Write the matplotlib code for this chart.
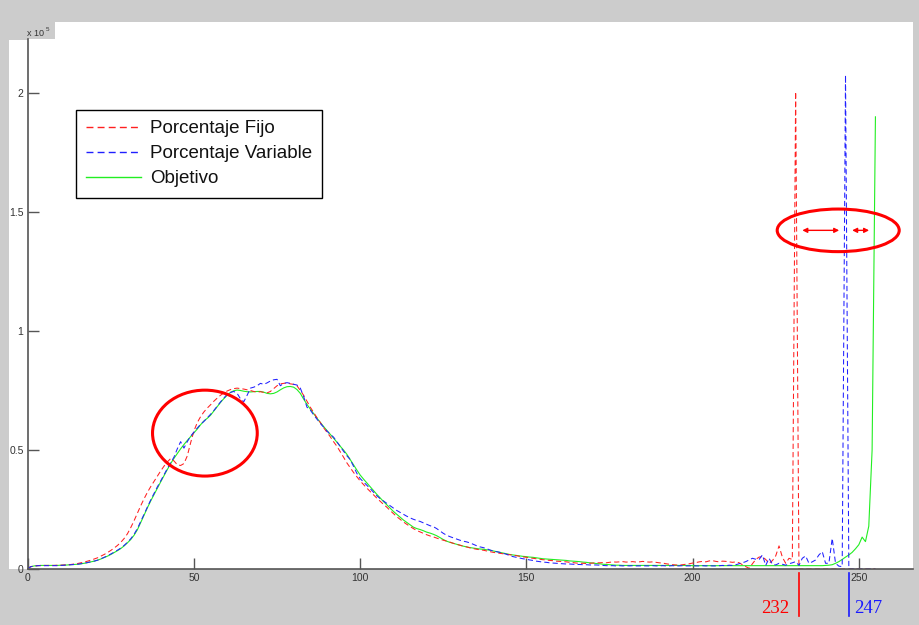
import numpy as np
import matplotlib.pyplot as plt
from matplotlib.patches import Ellipse, Rectangle
from matplotlib.transforms import blended_transform_factory

plt.rcParams['font.family'] = ['Liberation Sans', 'DejaVu Sans']

# histogram of gray levels 0..255, counts in thousands of pixels
fijo = [
    0.3, 1.0, 1.3, 1.4, 1.5, 1.5, 1.5, 1.5, 1.5, 1.6,
    1.6, 1.7, 1.8, 1.9, 2.1, 2.3, 2.6, 2.9, 3.3, 3.7,
    4.2, 4.7, 5.4, 6.1, 6.9, 7.8, 8.8, 9.9, 11.2, 12.8,
    14.8, 17.4, 20.3, 23.5, 26.6, 29.5, 32.2, 34.6, 36.8, 39.0,
    41.2, 43.2, 45.0, 46.4, 45.4, 43.8, 43.5, 44.3, 47.5, 53.0,
    58.0, 61.5, 64.0, 66.0, 67.6, 69.0, 70.5, 71.8, 73.0, 74.0,
    74.8, 75.4, 75.8, 76.0, 75.8, 75.6, 75.3, 75.0, 74.6, 74.3,
    74.5, 74.2, 74.0, 74.6, 75.8, 77.0, 77.8, 78.0, 78.2, 77.8,
    77.6, 77.0, 75.0, 73.0, 70.5, 68.0, 65.8, 63.6, 61.6, 59.4,
    57.5, 55.6, 53.5, 51.6, 49.3, 47.0, 44.6, 42.6, 40.6, 38.8,
    37.0, 35.5, 34.0, 32.6, 31.2, 29.8, 28.5, 27.2, 26.0, 24.6,
    23.3, 22.0, 20.9, 19.8, 18.8, 17.9, 17.0, 16.2, 15.6, 15.0,
    14.4, 13.9, 13.5, 13.0, 12.5, 12.1, 11.7, 11.3, 10.8, 10.4,
    10.0, 9.6, 9.3, 8.9, 8.6, 8.3, 8.1, 7.9, 7.6, 7.3,
    7.0, 6.8, 6.6, 6.4, 6.2, 6.0, 5.8, 5.6, 5.3, 5.1,
    4.9, 4.7, 4.5, 4.3, 4.1, 3.9, 3.8, 3.6, 3.5, 3.3,
    3.2, 3.1, 3.0, 2.8, 2.7, 2.5, 2.4, 2.4, 2.3, 2.4,
    2.5, 2.6, 2.6, 2.7, 2.6, 2.8, 3.0, 2.9, 3.0, 3.1,
    2.9, 3.0, 3.1, 2.9, 3.0, 3.2, 3.0, 2.9, 3.0, 2.8,
    2.6, 2.5, 2.2, 2.0, 1.8, 1.7, 1.6, 1.8, 2.0, 2.2,
    2.5, 2.7, 3.0, 3.2, 3.0, 3.4, 3.5, 3.2, 3.0, 3.3,
    3.2, 3.0, 2.8, 3.0, 2.6, 1.8, 1.0, 0.3, 2.2, 4.0,
    5.0, 5.2, 4.0, 2.4, 3.5, 5.5, 9.7, 5.0, 2.4, 4.5,
    4.0, 200.5, 0.0, 0.0, 0.0, 0.0, 0.0, 0.0, 0.0, 0.0,
    0.0, 0.0, 0.0, 0.0, 0.0, 0.0, 0.0, 0.0, 0.0, 0.0,
    0.0, 0.0, 0.0, 0.0, 0.0, 0.0,
]

variable = [
    0.3, 1.0, 1.2, 1.4, 1.4, 1.4, 1.4, 1.4, 1.4, 1.4,
    1.5, 1.6, 1.7, 1.8, 1.9, 2.0, 2.2, 2.4, 2.7, 3.0,
    3.3, 3.7, 4.3, 4.9, 5.6, 6.3, 7.1, 7.9, 8.8, 9.9,
    11.2, 12.7, 14.6, 17.0, 20.0, 23.0, 26.0, 29.0, 31.8, 34.5,
    37.0, 39.6, 42.2, 44.6, 47.0, 50.5, 53.5, 50.8, 53.5, 55.8,
    57.5, 59.2, 60.8, 62.0, 63.5, 65.0, 66.6, 68.4, 70.2, 71.8,
    73.4, 74.2, 74.6, 73.8, 71.5, 70.3, 73.0, 76.0, 76.4, 77.0,
    78.0, 77.6, 78.2, 79.0, 79.5, 79.7, 77.0, 78.0, 78.3, 78.0,
    77.6, 77.3, 76.0, 72.5, 68.0, 66.8, 64.8, 63.0, 61.2, 59.6,
    58.0, 56.6, 55.4, 53.5, 51.5, 49.5, 47.6, 46.0, 43.2, 40.2,
    38.0, 36.6, 35.2, 33.8, 32.3, 30.8, 29.6, 28.6, 27.6, 26.6,
    25.6, 24.6, 23.8, 23.0, 22.2, 21.5, 20.9, 20.4, 20.0, 19.4,
    18.8, 18.2, 17.8, 17.0, 16.0, 15.0, 14.2, 13.6, 13.1, 12.6,
    12.1, 11.7, 11.4, 11.0, 10.4, 9.8, 9.3, 9.0, 8.6, 8.0,
    7.6, 7.3, 7.0, 6.6, 6.2, 5.6, 5.2, 4.9, 4.6, 4.3,
    4.1, 3.8, 3.6, 3.3, 3.1, 2.9, 2.8, 2.6, 2.5, 2.4,
    2.3, 2.2, 2.1, 2.1, 2.0, 1.9, 1.9, 1.8, 1.8, 1.7,
    1.7, 1.7, 1.6, 1.5, 1.4, 1.4, 1.4, 1.3, 1.4, 1.3,
    1.4, 1.3, 1.4, 1.3, 1.3, 1.4, 1.3, 1.3, 1.4, 1.3,
    1.3, 1.4, 1.3, 1.3, 1.4, 1.3, 1.3, 1.4, 1.3, 1.3,
    1.4, 1.3, 1.3, 1.4, 1.3, 1.4, 1.3, 1.3, 1.4, 1.5,
    1.4, 1.6, 1.5, 1.8, 2.2, 2.6, 3.1, 3.8, 4.5, 4.1,
    4.0, 5.9, 1.5, 4.5, 2.0, 1.7, 2.4, 2.0, 1.6, 2.2,
    2.6, 3.1, 1.5, 4.5, 5.5, 2.4, 3.0, 3.8, 5.9, 7.3,
    2.4, 2.4, 12.9, 2.4, 1.2, 1.0, 207.5, 0.0, 0.0, 0.0,
    0.0, 0.0, 0.0, 0.0, 0.0, 0.0,
]

objetivo = [
    0.3, 1.0, 1.3, 1.4, 1.5, 1.5, 1.5, 1.5, 1.5, 1.5,
    1.6, 1.6, 1.7, 1.8, 1.9, 2.0, 2.2, 2.4, 2.7, 3.0,
    3.3, 3.7, 4.2, 4.8, 5.4, 6.1, 6.9, 7.7, 8.6, 9.7,
    11.0, 12.4, 14.2, 16.5, 19.5, 22.6, 25.7, 28.6, 31.3, 34.0,
    36.6, 39.2, 41.8, 44.3, 46.5, 48.5, 50.5, 52.3, 54.0, 55.6,
    57.2, 58.8, 60.6, 62.2, 63.3, 64.6, 66.4, 68.2, 70.0, 71.6,
    73.0, 74.2, 74.9, 75.2, 75.0, 74.7, 74.5, 74.4, 74.5, 74.6,
    74.6, 74.3, 73.8, 73.6, 73.8, 74.4, 75.3, 76.1, 76.6, 76.7,
    76.4, 75.4, 73.8, 71.4, 69.2, 67.2, 65.3, 63.4, 61.6, 59.9,
    58.2, 56.6, 55.0, 53.3, 51.6, 50.0, 48.2, 46.0, 43.8, 41.6,
    39.5, 37.8, 36.2, 34.6, 33.0, 31.4, 29.9, 28.4, 27.0, 25.6,
    24.2, 23.0, 21.8, 20.6, 19.6, 18.6, 17.6, 17.0, 16.6, 16.1,
    15.5, 15.1, 14.6, 14.0, 13.2, 12.4, 11.7, 11.2, 10.8, 10.4,
    10.0, 9.6, 9.3, 9.0, 8.8, 8.6, 8.4, 8.3, 8.1, 7.9,
    7.6, 7.3, 7.0, 6.7, 6.4, 6.1, 5.9, 5.7, 5.5, 5.3,
    5.2, 5.0, 4.9, 4.7, 4.5, 4.3, 4.2, 4.1, 4.0, 3.9,
    3.8, 3.7, 3.6, 3.4, 3.3, 3.2, 3.1, 2.9, 2.8, 2.6,
    2.5, 2.3, 2.2, 2.0, 1.9, 1.8, 1.7, 1.6, 1.6, 1.5,
    1.5, 1.5, 1.5, 1.5, 1.5, 1.5, 1.5, 1.5, 1.5, 1.5,
    1.5, 1.5, 1.5, 1.5, 1.5, 1.5, 1.5, 1.5, 1.5, 1.5,
    1.4, 1.4, 1.4, 1.4, 1.4, 1.4, 1.4, 1.4, 1.4, 1.4,
    1.4, 1.4, 1.4, 1.4, 1.4, 1.4, 1.4, 1.4, 1.4, 1.4,
    1.4, 1.4, 1.4, 1.4, 1.4, 1.4, 1.4, 1.4, 1.4, 1.4,
    1.4, 1.4, 1.4, 1.4, 1.4, 1.4, 1.4, 1.4, 1.4, 1.4,
    1.5, 1.6, 1.8, 2.4, 3.1, 4.0, 5.0, 5.9, 7.0, 8.5,
    10.2, 13.4, 11.5, 18.0, 50.0, 190.0,
]

niveles = np.arange(256)
yticks = [0, 0.5, 1, 1.5, 2]
xticks = [0, 50, 100, 150, 200, 250]

fijo = np.array(fijo) * 1e3
variable = np.array(variable) * 1e3
objetivo = np.array(objetivo) * 1e3

W, H = 919, 625
gris = '#cccccc'
fig = plt.figure(figsize=(W / 100, H / 100), dpi=100, facecolor=gris)

# white panel and the little gray box behind the exponent label
fig.patches.append(Rectangle((9 / W, 1 - 569 / H), 904 / W, 547 / H,
                             transform=fig.transFigure, facecolor='white',
                             edgecolor='none', zorder=0))
fig.patches.append(Rectangle((9 / W, 1 - 40 / H), 46 / W, 18 / H,
                             transform=fig.transFigure, facecolor=gris,
                             edgecolor='none', zorder=0.5))

ax = fig.add_axes([27.7 / W, 1 - 569 / H, 885.3 / W, 530 / H])
ax.set_zorder(2)
ax.set_facecolor('white')

guion = (0, (5, 3))
l_obj, = ax.plot(niveles, objetivo, color='#22ee22', lw=0.8, label='Objetivo')
l_fijo, = ax.plot(niveles, fijo, color='#ff2020', lw=0.75, linestyle=guion,
                  label='Porcentaje Fijo')
l_var, = ax.plot(niveles, variable, color='#2020ff', lw=0.75, linestyle=guion,
                 label='Porcentaje Variable')

ax.set_xlim(0, 266.3)
ax.set_ylim(0, 2.227e5)
ax.set_xticks(xticks)
ax.set_xticklabels([str(t) for t in xticks])
ax.set_yticks([t * 1e5 for t in yticks])
ax.set_yticklabels([('%g' % t) for t in yticks])
ax.tick_params(direction='in', length=8, width=1, colors='#555555',
               labelcolor='#333333', labelsize=7.5, pad=3)
for s in ['top', 'right']:
    ax.spines[s].set_visible(False)
for s in ['left', 'bottom']:
    ax.spines[s].set_color('#555555')
    ax.spines[s].set_linewidth(1.2)

fig.text(27 / W, 1 - 35.5 / H, 'x 10', fontsize=6.5, color='#333333')
fig.text(45.5 / W, 1 - 31 / H, '5', fontsize=4.5, color='#333333')

leg = ax.legend(handles=[l_fijo, l_var, l_obj], loc='upper left',
                bbox_to_anchor=(0.0546, 0.866), borderaxespad=0,
                fancybox=False, edgecolor='black', framealpha=1,
                fontsize=13.5, handlelength=2.9, handletextpad=0.48,
                labelspacing=0.42, borderpad=0.55)
leg.get_frame().set_linewidth(1.0)
for t in leg.get_texts():
    t.set_color('#111111')
for h in leg.legend_handles:
    h.set_linewidth(1.0)

# highlighted regions
ax.add_patch(Ellipse((53.3, 0.571e5), 31.5, 0.361e5, fill=False,
                     edgecolor='red', lw=2.2, zorder=5))
ax.add_patch(Ellipse((243.8, 1.423e5), 36.7, 0.179e5, fill=False,
                     edgecolor='red', lw=2.2, zorder=5))

# distances between the peaks
p_fijo = int(np.argmax(fijo))
p_var = int(np.argmax(variable))
p_obj = int(np.argmax(objetivo))
for a, b in [(p_fijo, p_var), (p_var, p_obj)]:
    ax.annotate('', xy=(b - 1.9, 1.423e5), xytext=(a + 2.0, 1.423e5),
                arrowprops=dict(arrowstyle='<|-|>', color='red', lw=1,
                                mutation_scale=7, shrinkA=0, shrinkB=0))

# peak positions marked under the axis
tr = blended_transform_factory(ax.transData, ax.transAxes)
for pico, color, dx, ha in [(p_fijo, '#ff0000', -7, 'right'),
                            (p_var, '#1a1aff', 3.5, 'left')]:
    nivel = pico + 1
    ax.plot([nivel, nivel], [-0.0075, -0.0887], color=color, lw=1.2,
            transform=tr, clip_on=False)
    ax.annotate(str(nivel), xy=(nivel, -0.083), xycoords=tr,
                xytext=(dx, 0), textcoords='offset points', ha=ha,
                va='baseline', color=color, fontsize=13.5,
                family='Liberation Serif', annotation_clip=False)

fig.savefig('out.png', dpi=100, facecolor=fig.get_facecolor())
